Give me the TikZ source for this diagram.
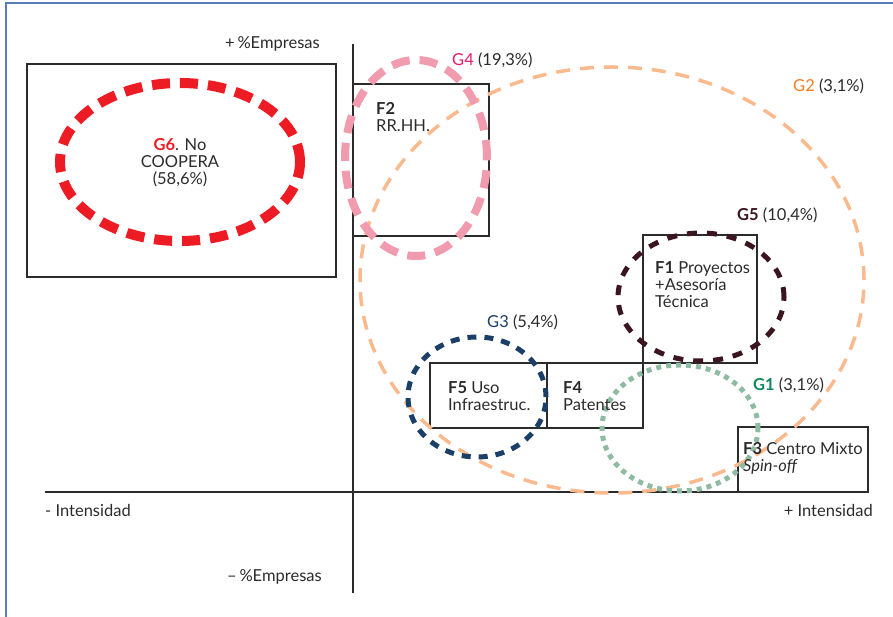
\documentclass[tikz,border=0pt]{standalone}
\usepackage{fontspec}
\setmainfont{Lato}
\usetikzlibrary{shapes.geometric}

\definecolor{frameblue}{HTML}{5B7BBF}
\definecolor{ink}{HTML}{2B2B2B}
\definecolor{cred}{HTML}{ED1C24}
\definecolor{cpink}{HTML}{F19BAE}
\definecolor{cpinklbl}{HTML}{E6196B}
\definecolor{cpeach}{HTML}{FBB98E}
\definecolor{corange}{HTML}{F47B20}
\definecolor{cmaroon}{HTML}{3B1520}
\definecolor{cblue}{HTML}{1B3F66}
\definecolor{cgreen}{HTML}{8FBBA3}
\definecolor{cgreenlbl}{HTML}{108A5A}

\tikzset{
  axis/.style={draw=ink, line width=2pt},
  fbox/.style={draw=ink, line width=2.2pt, rectangle, inner sep=0pt},
  group/.style={ellipse, inner sep=0pt, fill=none},
  lbl/.style={inner sep=0pt, text=ink, font=\fontsize{16.5}{17}\selectfont, align=left},
}

\begin{document}
\begin{tikzpicture}[x=1pt, y=-1pt]
\useasboundingbox (0,0) rectangle (893,617);

% page frame
\draw[frameblue, line width=1.5pt] (6,617) -- (6,3) -- (893,3);

% axes
\coordinate (vtop) at (353,44);
\coordinate (vbot) at (353,593);
\coordinate (hl) at (45,492);
\coordinate (hr) at (868,492);
\draw[axis] (vtop) -- (vbot);
\draw[axis] (hl) -- (hr);

% boxes
\node[fbox, minimum width=309, minimum height=213] (g6box) at (181.5,170.5) {};
\node[fbox, minimum width=136, minimum height=152] (f2) at (421,160) {};
\node[fbox, minimum width=114, minimum height=128] (f1) at (700,299) {};
\node[fbox, minimum width=117, minimum height=65] (f5) at (488.5,395.5) {};
\node[fbox, minimum width=96, minimum height=65] (f4) at (595,395.5) {};
\node[fbox, minimum width=130, minimum height=65] (f3) at (803,459.5) {};

% group ellipses
\node[group, draw=cpeach, line width=3.5pt, dash pattern=on 14pt off 10pt,
      minimum width=504, minimum height=426] (g2) at (612,280) {};
\node[group, draw=cred, line width=10pt, dash pattern=on 18pt off 10pt,
      minimum width=240, minimum height=158] (g6) at (180,162) {};
\node[group, draw=cpink, line width=8pt, dash pattern=on 18pt off 10pt,
      minimum width=142, minimum height=196] (g4) at (416,158) {};
\node[group, draw=cmaroon, line width=5pt, dash pattern=on 10pt off 10pt,
      minimum width=166, minimum height=128] (g5) at (701,297) {};
\node[group, draw=cblue, line width=5pt, dash pattern=on 9pt off 8pt,
      minimum width=138, minimum height=120] (g3) at (477,397) {};
\node[group, draw=cgreen, line width=5pt, dash pattern=on 5pt off 5pt,
      minimum width=156, minimum height=126] (g1) at (680,428) {};

% axis labels
\node[lbl, anchor=west] (ytop) at (225,44) {+\,\%Empresas};
\node[lbl, anchor=west] (ybot) at (227,577) {–\,\%Empresas};
\node[lbl, anchor=west] (xneg) at (45,510) {- Intensidad};
\node[lbl, anchor=east] (xpos) at (873,510) {+ Intensidad};

% group labels
\node[lbl, anchor=west] (g4lbl) at (452,60) {\textcolor{cpinklbl}{G4} (19,3\%)};
\node[lbl, anchor=west] (g2lbl) at (793,86) {\textcolor{corange}{G2} (3,1\%)};
\node[lbl, anchor=west] (g5lbl) at (737,215) {\textcolor{cmaroon}{\bfseries G5} (10,4\%)};
\node[lbl, anchor=west] (g3lbl) at (487,322) {\textcolor{cblue}{G3} (5,4\%)};
\node[lbl, anchor=west] (g1lbl) at (753,385) {\textcolor{cgreenlbl}{\bfseries G1} (3,1\%)};

% box texts
\node[lbl, align=center] (g6txt) at (180,163) {\textcolor{cred}{\bfseries G6}. No\\COOPERA\\(58,6\%)};
\node[lbl, anchor=north west] (f2txt) at (376,102) {\textbf{F2}\\RR.HH.};
\node[lbl, anchor=north west] (f1txt) at (655,261) {\textbf{F1} Proyectos\\+Asesoría\\Técnica};
\node[lbl, anchor=north west] (f5txt) at (448,381) {\textbf{F5} Uso\\Infraestruc.};
\node[lbl, anchor=north west] (f4txt) at (563,381) {\textbf{F4}\\Patentes};
\node[lbl, anchor=north west] (f3txt) at (743,442) {\textbf{F3} Centro Mixto\\\textit{Spin-off}};
\end{tikzpicture}
\end{document}
